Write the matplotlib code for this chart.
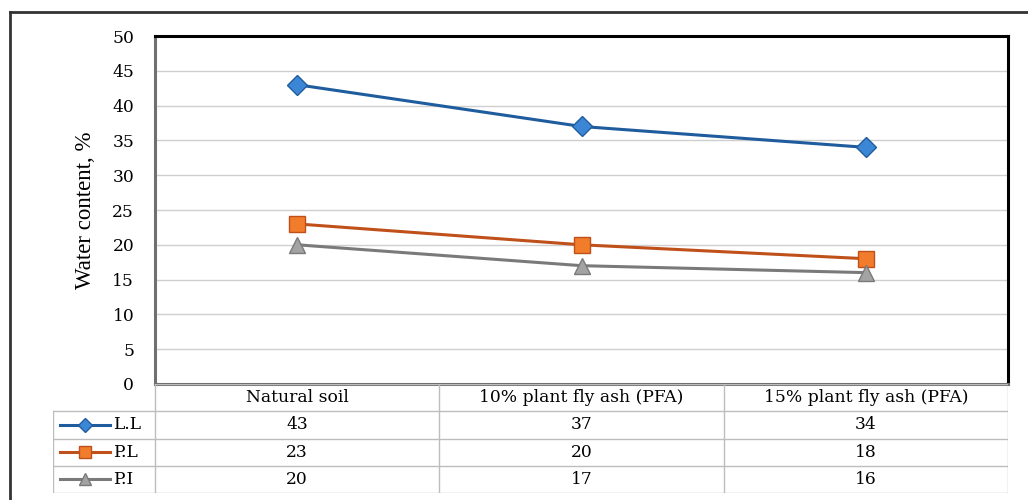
import numpy as np
import matplotlib
matplotlib.use('Agg')
import matplotlib.pyplot as plt
from matplotlib.lines import Line2D

# dati
categorie = ['Natural soil', '10% plant fly ash (PFA)', '15% plant fly ash (PFA)']
serie = ['L.L', 'P.L', 'P.I']
LL = [43, 37, 34]
PL = [23, 20, 18]
PI = [20, 17, 16]
yticks = [0, 5, 10, 15, 20, 25, 30, 35, 40, 45, 50]

# il testo nell'originale e' un Times "allargato": DejaVu Serif ci somiglia di piu' come ingombro
plt.rcParams['font.family'] = ['DejaVu Serif']
fs = 12.3

# stili delle serie
stili = [
    dict(color='#1f5c9e', marker='D', mfc='#3b87d6', mec='#1f5c9e', ms=10),
    dict(color='#c0501a', marker='s', mfc='#f07c2c', mec='#c0501a', ms=11),
    dict(color='#7a7a7a', marker='^', mfc='#a3a3a3', mec='#7a7a7a', ms=12),
]
valori = [LL, PL, PI]

W, H = 1028, 500
fig = plt.figure(figsize=(W / 100, H / 100), dpi=100)

def px(x0, y0, x1, y1):
    return [x0 / W, 1 - y1 / H, (x1 - x0) / W, (y1 - y0) / H]

# cornice esterna (solo sinistra e alto visibili)
fig.add_artist(Line2D([10 / W, 10 / W], [0, 1 - 12 / H], transform=fig.transFigure, color='#333333', lw=2))
fig.add_artist(Line2D([10 / W, 1], [1 - 12 / H, 1 - 12 / H], transform=fig.transFigure, color='#333333', lw=2))

ax = fig.add_axes(px(155, 36, 1008, 384))
x = np.arange(len(categorie))
for v, st in zip(valori, stili):
    ax.plot(x, v, lw=2.2, **st, zorder=3)

ax.set_xlim(-0.5, 2.5)
ax.set_ylim(0, 50)
ax.set_yticks(yticks)
ax.set_xticks([])
ax.tick_params(axis='y', length=0, pad=15, labelsize=fs)
ax.yaxis.grid(True, color='#cfcfcf', lw=1)
ax.set_axisbelow(True)
for s in ['top', 'right']:
    ax.spines[s].set_color('black')
    ax.spines[s].set_linewidth(2.2)
for s in ['left', 'bottom']:
    ax.spines[s].set_color('#707070')
    ax.spines[s].set_linewidth(2.2)
ax.set_ylabel('Water content, %', fontsize=16.5, family=['Liberation Serif'], labelpad=12)

# tabella dati sotto il grafico
unit = (1008 - 155) / 3.0
xl = -0.5 - (155 - 53) / unit
tab = fig.add_axes(px(53, 384, 1008, 493))
tab.set_xlim(xl, 2.5)
tab.set_ylim(0, 4)
tab.axis('off')
gc = '#bdbdbd'
# linee orizzontali
for yy in [0, 1, 2, 3]:
    tab.plot([xl, 2.5], [yy, yy], color=gc, lw=1)
tab.plot([-0.5, 2.5], [4, 4], color=gc, lw=1)
# linee verticali
tab.plot([xl, xl], [0, 3], color=gc, lw=1)
for xx in [-0.5, 0.5, 1.5, 2.5]:
    tab.plot([xx, xx], [0, 4], color=gc, lw=1)
for i, c in enumerate(categorie):
    tab.text(i, 3.5, c, ha='center', va='center', fontsize=fs)
for r, (nome, v, st) in enumerate(zip(serie, valori, stili)):
    yc = 2.5 - r
    x0 = xl + 7 / unit
    x1 = xl + 57 / unit
    tab.plot([x0, x1], [yc, yc], lw=2.2, color=st['color'])
    tab.plot([(x0 + x1) / 2], [yc], ls='none', marker=st['marker'], mfc=st['mfc'],
             mec=st['mec'], ms=st['ms'] - 3)
    tab.text(xl + 60 / unit, yc, nome, ha='left', va='center', fontsize=fs)
    for i, val in enumerate(v):
        tab.text(i, yc, str(val), ha='center', va='center', fontsize=fs)

fig.savefig('out.png', dpi=100)
